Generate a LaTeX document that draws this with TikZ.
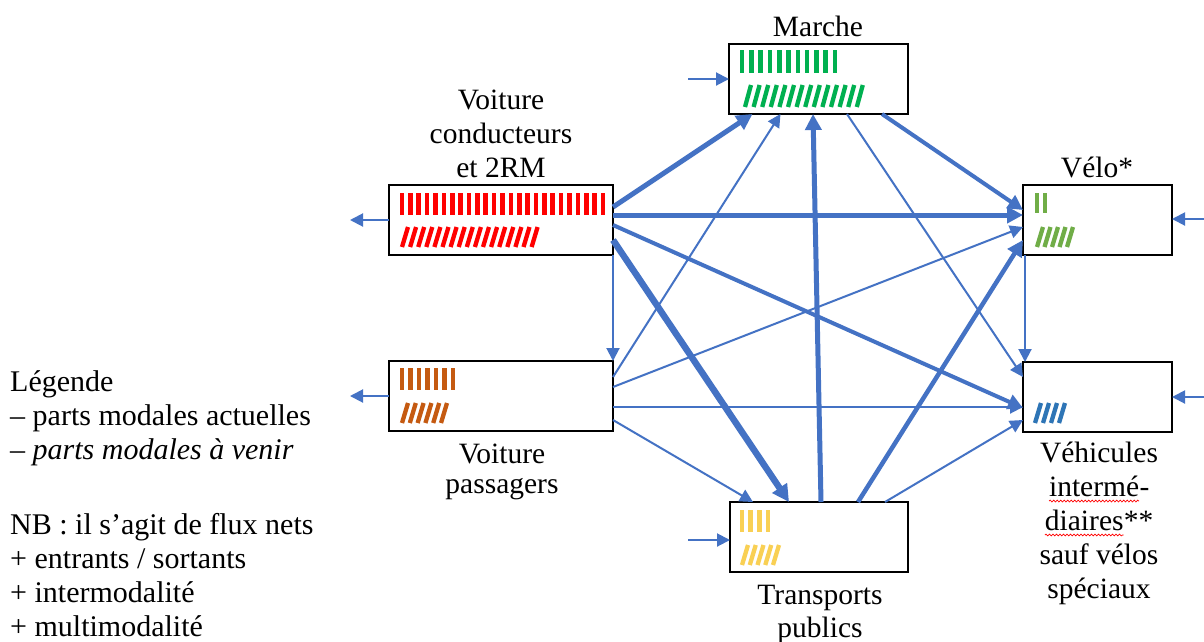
\documentclass[tikz,border=0pt]{standalone}
\usepackage{fontspec}
\setmainfont{Liberation Serif}
\usetikzlibrary{arrows.meta,decorations.pathmorphing}
\definecolor{arrowblue}{HTML}{4472C4}
\definecolor{marchegreen}{HTML}{00B050}
\definecolor{velogreen}{HTML}{70AD47}
\definecolor{carred}{HTML}{FF0000}
\definecolor{passorange}{HTML}{C55A11}
\definecolor{viblue}{HTML}{2E75B6}
\definecolor{tpyellow}{HTML}{F9D054}
\newcommand\barsV[6]{\foreach \i in {1,...,#3}{\draw[draw=#6,line width=4.6pt] ({#1+(\i-1)*#4},#2) -- ++(0,#5);}}
\newcommand\barsS[6]{\foreach \i in {1,...,#3}{\draw[draw=#6,line width=4.3pt] ({#1+(\i-1)*#4},{#2+#5}) -- ++(6,{-#5});}}
\newcommand\spellmark[1]{\tikz[x=1pt,y=1pt,baseline=(sw.base)]{\node[inner sep=0pt,outer sep=0pt] (sw) {#1};\draw[red,line width=0.7pt,decorate,decoration={snake,amplitude=0.9pt,segment length=3.5pt}] ([yshift=-5pt]sw.base west) -- ([yshift=-5pt]sw.base east);}}
\begin{document}
\begin{tikzpicture}[x=1pt,y=-1pt,
  box/.style={draw=black,line width=1.6pt,minimum width=#1,minimum height=70pt,inner sep=0pt,outer sep=0pt},
  lbl/.style={font=\fontsize{29.5pt}{34pt}\selectfont,align=center,inner sep=0pt},
  flow/.style={draw=arrowblue,line width=2pt,-{Triangle[length=13pt,width=13pt]}},
  fmed/.style={draw=arrowblue,line width=4pt,-{Triangle[length=15pt,width=15pt]}},
  fthick/.style={draw=arrowblue,line width=5pt,-{Triangle[length=16pt,width=16pt]}},
  fxthick/.style={draw=arrowblue,line width=6.5pt,-{Triangle[length=17pt,width=17pt]}}]
\useasboundingbox[fill=white] (0,0) rectangle (1204,641);

% boxes
\node[box=179pt] (marche) at (818.5,79) {};
\node[box=224pt] (vc) at (501,220) {};
\node[box=149pt] (velo) at (1097.5,220) {};
\node[box=224pt] (vp) at (501,396) {};
\node[box=149pt] (vi) at (1097.5,397) {};
\node[box=178pt] (tp) at (819,537) {};

% hatches
\barsV{742}{50}{11}{9.3}{23}{marchegreen}
\barsS{745}{85}{14}{8.6}{22}{marchegreen}
\barsV{402}{193}{25}{8.375}{22}{carred}
\barsS{402}{227}{17}{8.1}{20}{carred}
\barsV{402}{368}{7}{8.5}{22}{passorange}
\barsS{402}{403}{6}{7.8}{20}{passorange}
\barsV{1037}{193}{2}{8}{20}{velogreen}
\barsS{1037}{227}{5}{7.5}{20}{velogreen}
\barsS{1035}{403}{4}{8}{20}{viblue}
\barsV{742}{510}{4}{8.67}{22}{tpyellow}
\barsS{742}{545}{5}{7.75}{20}{tpyellow}

% labels (base = baseline of last line)
\node[lbl,anchor=base] (marchelbl) at (818,36) {Marche};
\node[lbl,anchor=base] (vclbl) at (501,177) {Voiture\\conducteurs\\et 2RM};
\node[lbl,anchor=base] (velolbl) at (1097,177) {Vélo*};
\node[lbl,font=\fontsize{29.5pt}{30pt}\selectfont,anchor=base] (vplbl) at (502,493) {Voiture\\passagers};
\node[lbl,anchor=base] (vilbl) at (1099,598) {Véhicules\\\spellmark{intermé}-\\\spellmark{diaires}**\\sauf vélos\\spéciaux};
\node[lbl,font=\fontsize{29.5pt}{33pt}\selectfont,anchor=base] (tplbl) at (820,637) {Transports\\publics};
\node[lbl,font=\fontsize{30pt}{34pt}\selectfont,align=left,anchor=base west] (legend) at (10,636) {Légende\\– parts modales actuelles\\– \textit{parts modales à venir}\\[41pt]NB : il s’agit de flux nets\\+ entrants / sortants\\+ intermodalité\\+ multimodalité};

% external flows
\coordinate (vcout) at (350,220);
\coordinate (vpout) at (350,396);
\coordinate (marchein) at (688,79);
\coordinate (tpin) at (688,540);
\coordinate (veloin) at (1204,219);
\coordinate (viin) at (1204,397);
\draw[flow] (vc.west) -- (vcout);
\draw[flow] (vp.west) -- (vpout);
\draw[flow] (marchein) -- (marche.west);
\draw[flow] (tpin) -- (tpin -| tp.west);
\draw[flow] (veloin) -- (veloin -| velo.east);
\draw[flow] (viin) -- (viin -| vi.east);

% internal flows
\draw[fthick] ([yshift=13pt]vc.east) -- ([xshift=-66pt]marche.south);
\draw[fthick] ([yshift=5pt]vc.east) -- ([yshift=5pt]velo.west);
\draw[fmed] ([yshift=-5pt]vc.east) -- ([yshift=-11pt]vi.west);
\draw[fxthick] ([yshift=-20pt]vc.east) -- ([xshift=-30pt]tp.north);
\draw[flow] (vc.south east) -- (vp.north east);
\draw[flow] ([yshift=19pt]vp.east) -- ([xshift=-38pt]marche.south);
\draw[flow] ([yshift=9pt]vp.east) -- ([yshift=-7pt]velo.west);
\draw[flow] ([yshift=-11pt]vp.east) -- ([yshift=-10pt]vi.west);
\draw[flow] ([yshift=-24pt]vp.east) -- ([xshift=-66pt]tp.north);
\draw[fthick] ([xshift=2pt]tp.north) -- ([xshift=-5.5pt]marche.south);
\draw[fthick,line width=4.5pt] ([xshift=39pt]tp.north) -- ([yshift=-20pt]velo.west);
\draw[flow] ([xshift=66pt]tp.north) -- ([yshift=-23pt]vi.west);
\draw[fmed] ([xshift=63.5pt]marche.south) -- ([yshift=10pt]velo.west);
\draw[flow] ([xshift=28.5pt]marche.south) -- ([yshift=20pt]vi.west);
\draw[flow] ([xshift=2pt]velo.south west) -- ([xshift=2pt]vi.north west);
\end{tikzpicture}
\end{document}
